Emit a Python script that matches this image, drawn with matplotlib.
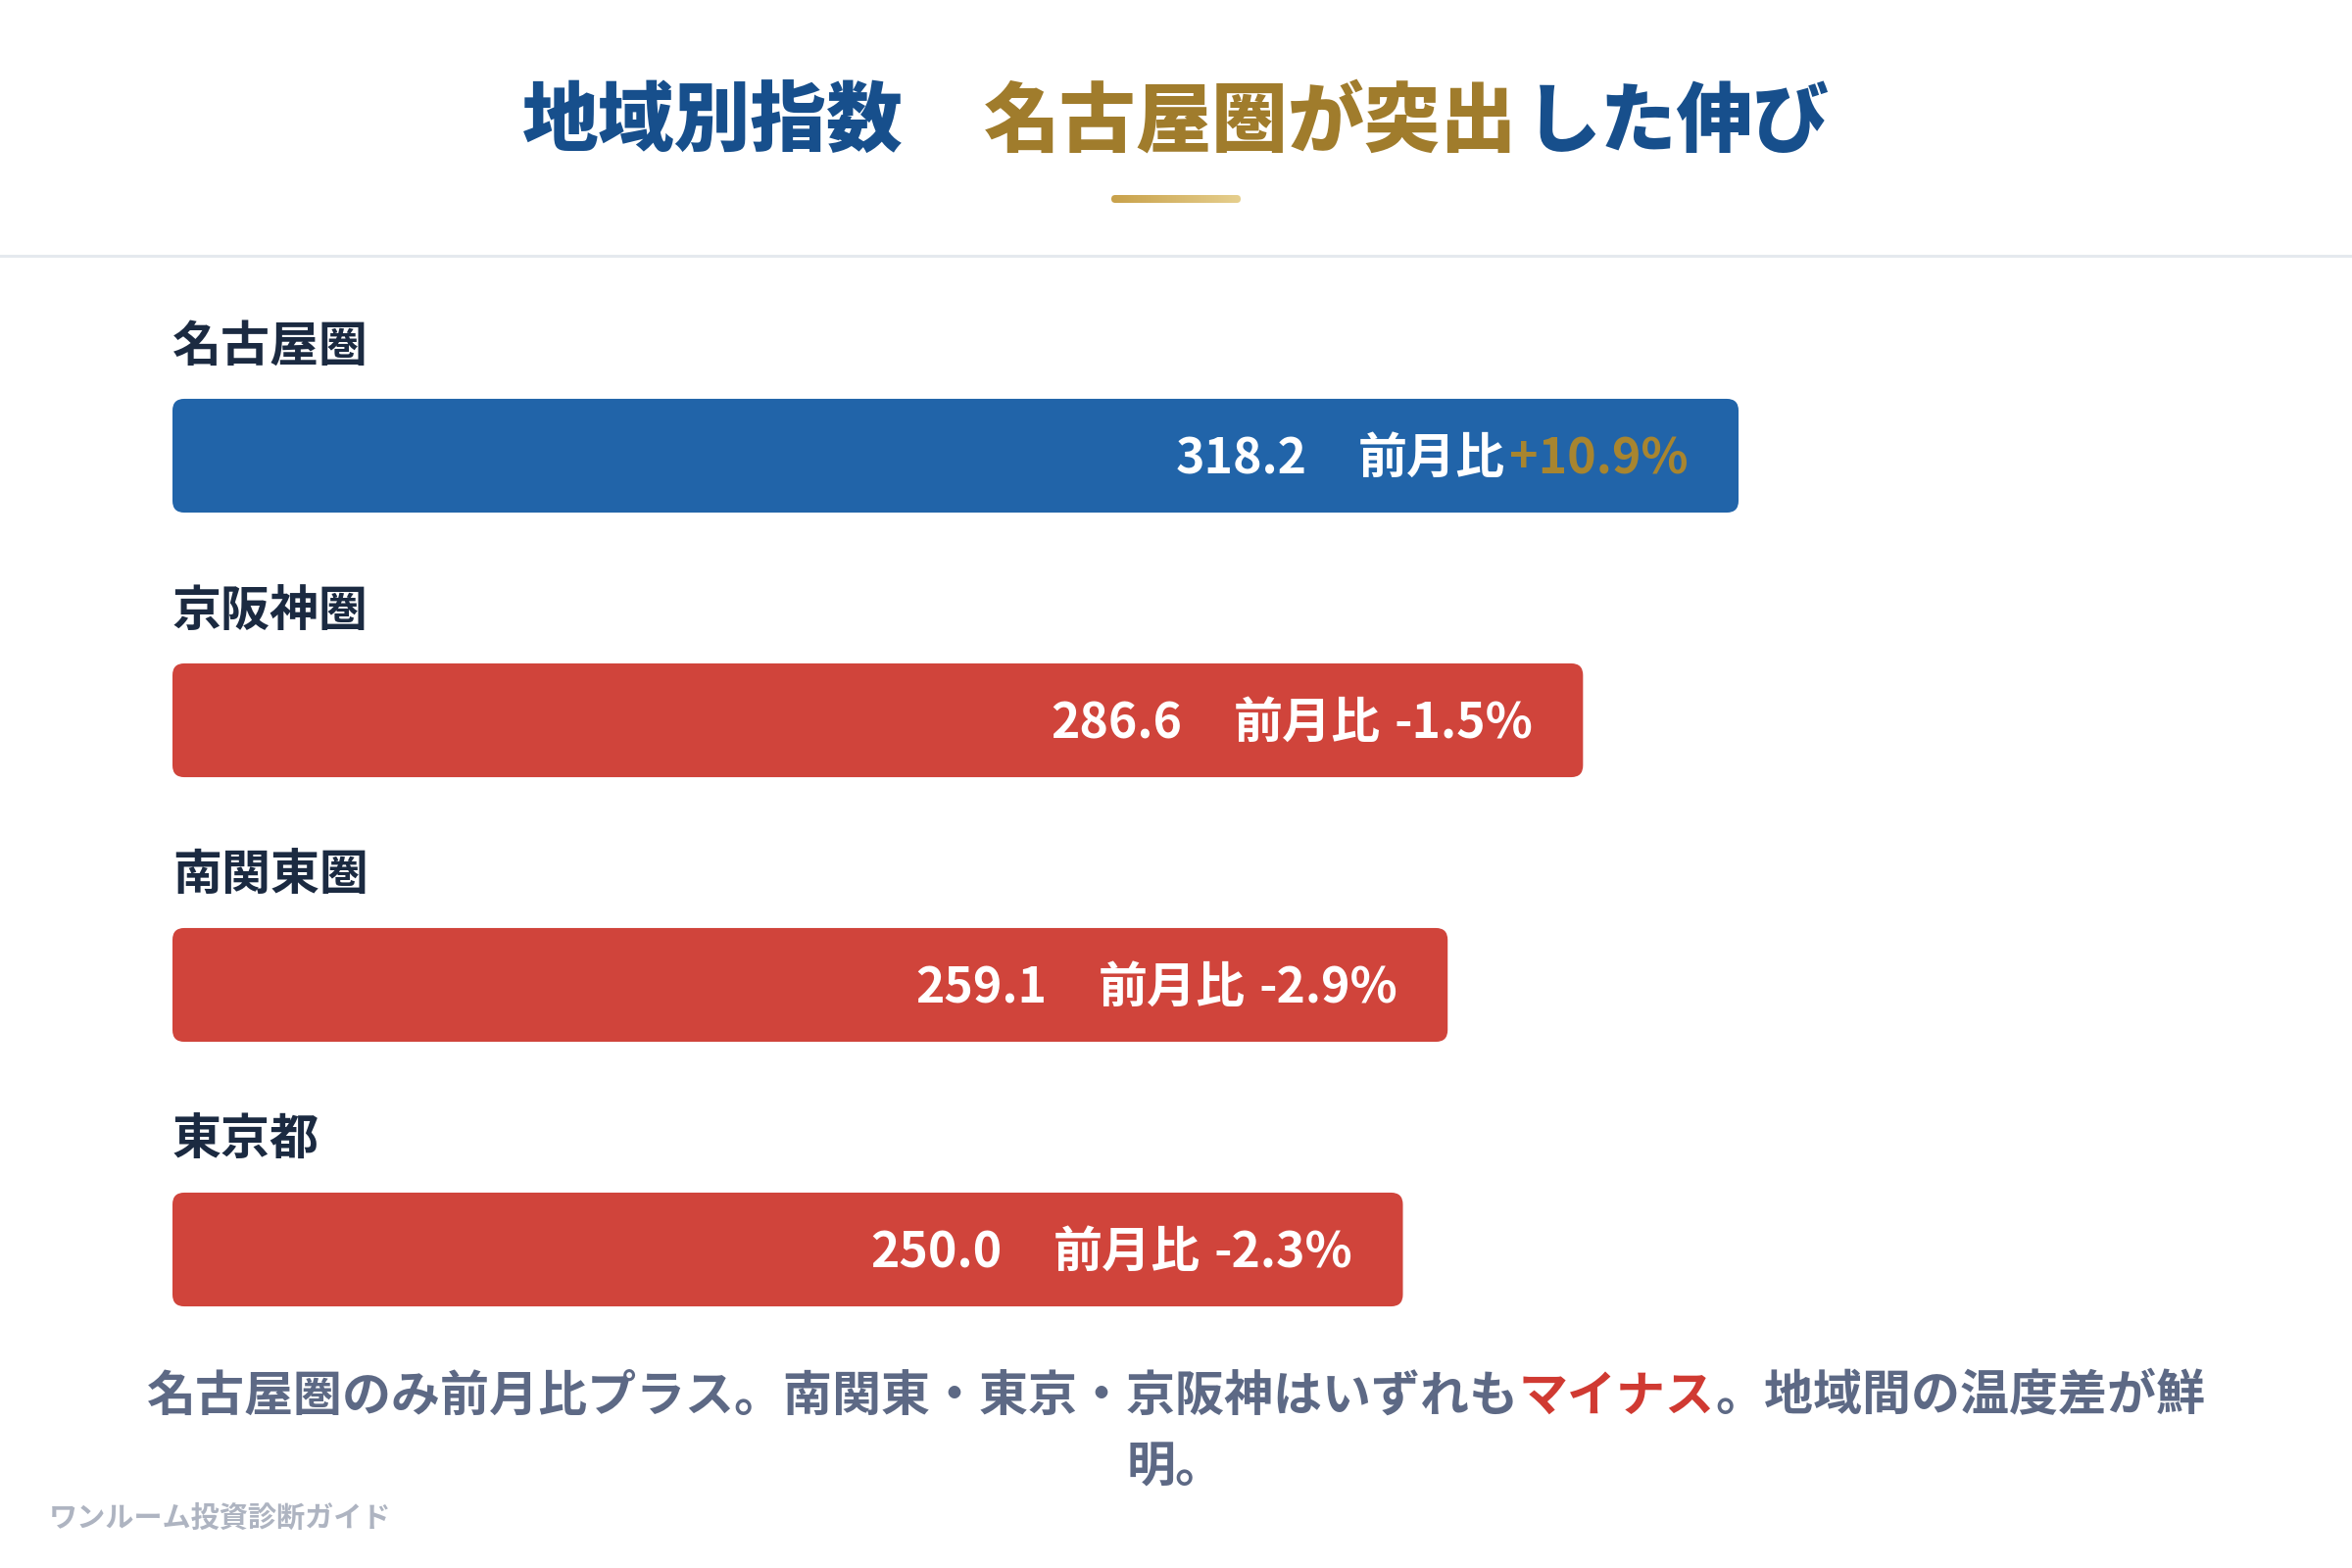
import numpy as np
import matplotlib
matplotlib.use("Agg")
import matplotlib.pyplot as plt
from matplotlib.patches import FancyBboxPatch
from matplotlib.colors import LinearSegmentedColormap

plt.rcParams['font.family'] = ['Noto Sans CJK JP', 'DejaVu Sans']

# data
regions = ["名古屋圏", "京阪神圏", "南関東圏", "東京都"]
index_values = [318.2, 286.6, 259.1, 250.0]
mom_change = [10.9, -1.5, -2.9, -2.3]

title_parts = ["地域別指数", "名古屋圏が突出", "した伸び"]
note_parts = ["名古屋圏のみ前月比プラス。南関東・東京・京阪神はいずれも", "マイナス", "。地域間の温度差が鮮"]
note_line2 = "明。"
credit = "ワンルーム投資診断ガイド"

NAVY = "#174f8c"
GOLD = "#a07c2c"
BLUE = "#2164a9"
RED = "#d0443b"
LABEL = "#1b2a41"
NOTE = "#5d6985"
NOTE_RED = "#d03a32"

fig = plt.figure(figsize=(12, 8), dpi=200)
fig.patch.set_facecolor("white")
r = fig.canvas.get_renderer()

# background axes in pixel units (top-down)
bg = fig.add_axes([0, 0, 1, 1])
bg.set_xlim(0, 2400)
bg.set_ylim(1600, 0)
bg.axis('off')


def centered_line(parts, colors, y, size, gaps=None, weight='bold'):
    texts = [bg.text(0, y, p, color=c, fontsize=size, fontweight=weight,
                     ha='left', va='center') for p, c in zip(parts, colors)]
    widths = [t.get_window_extent(r).width for t in texts]
    gaps = gaps or [0] * (len(parts) - 1)
    total = sum(widths) + sum(gaps)
    x = 1200 - total / 2
    for k, t in enumerate(texts):
        t.set_x(x)
        x += widths[k] + (gaps[k] if k < len(gaps) else 0)


# title
centered_line(title_parts, [NAVY, GOLD, NAVY], 126, 28, gaps=[82, 8], weight='heavy')

# gold underline with gradient
grad = np.linspace(0, 1, 256).reshape(1, -1)
cmap = LinearSegmentedColormap.from_list("gold", ["#c8a14a", "#e6cf8e"])
im = bg.imshow(grad, cmap=cmap, extent=(1134, 1266, 207, 199), aspect='auto', zorder=2)
clip = FancyBboxPatch((1134, 199), 132, 8, boxstyle="round,pad=0,rounding_size=4",
                      transform=bg.transData, fc='none', ec='none')
bg.add_patch(clip)
im.set_clip_path(clip)
bg.set_xlim(0, 2400)
bg.set_ylim(1600, 0)

# separator
bg.plot([0, 2400], [261, 261], color="#e5e9ee", lw=1.1)

# bars
ax = fig.add_axes([176 / 2400, (1600 - 1410) / 1600, 2049 / 2400, 1080 / 1600])
ax.set_xlim(0, 408)
ax.set_ylim(3.5, -0.5)
ax.axis('off')

bar_h = 0.43
for i, (name, v, c) in enumerate(zip(regions, index_values, mom_change)):
    color = BLUE if c > 0 else RED
    ax.add_patch(FancyBboxPatch((0, i - bar_h / 2), v, bar_h,
                                boxstyle="round,pad=0,rounding_size=2.4",
                                mutation_aspect=0.0186, fc=color, ec='none'))
    ax.text(0, i - 0.41, name, color=LABEL, fontsize=18, fontweight='bold',
            ha='left', va='center')

    pct = f"{c:+.1f}%"
    pieces = [(f"{v:.1f}", "white"), ("前月比", "white"),
              (pct, "#a8852f" if c > 0 else "white")]
    gaps = [52, 5 if c > 0 else 14]
    x_off = -51
    for k in reversed(range(3)):
        txt, col = pieces[k]
        t = ax.annotate(txt, xy=(v, i), xycoords='data', xytext=(x_off, -18),
                        textcoords='offset pixels', ha='right', va='baseline',
                        color=col, fontsize=18, fontweight='bold')
        w = t.get_window_extent(r).width
        if k > 0:
            x_off -= w + gaps[k - 1]

# footer note
centered_line(note_parts, [NOTE, NOTE_RED, NOTE], 1425, 18)
bg.text(1200, 1498, note_line2, color=NOTE, fontsize=18, fontweight='bold',
        ha='center', va='center')

# credit
bg.text(50, 1549, credit, color="#aeb4c1", fontsize=10.5, fontweight='bold',
        ha='left', va='center')

fig.savefig("out.png", dpi=200, facecolor="white")
